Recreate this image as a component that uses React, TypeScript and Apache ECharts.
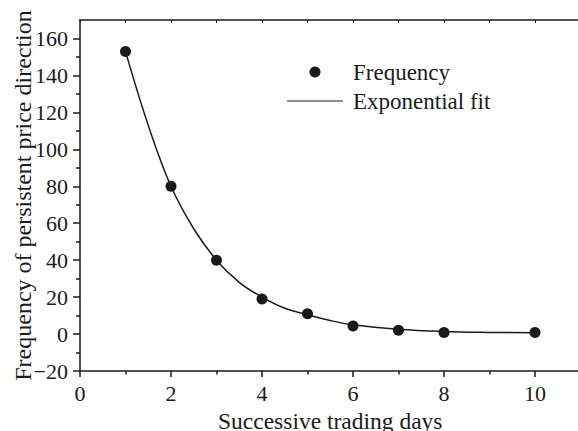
import React, { useEffect, useRef } from "react";
import * as echarts from "echarts";

// Observed frequencies by run length (successive trading days)
const days = [1, 2, 3, 4, 5, 6, 7, 8, 10];
const frequency = [153, 80, 40, 19, 11, 4.3, 2.1, 0.9, 0.9];

// Exponential fit curve, sampled along x
const fitX = [1, 1.5, 2, 2.5, 3, 3.5, 4, 4.5, 5, 5.5, 6, 7, 8, 9, 10];
const fitY = [153, 113, 80, 57, 40, 28, 20, 14, 10.5, 7.3, 5, 2.6, 1.4, 0.9, 0.7];

// Axis ticks
const xMajor = [0, 2, 4, 6, 8, 10];
const xMinor = [1, 3, 5, 7, 9];
const xTop = [0, 1, 2, 3, 4, 5, 6, 7, 8, 9, 10, 11];
const yMajor = [-20, 0, 20, 40, 60, 80, 100, 120, 140, 160];
const yMinor = [-10, 10, 30, 50, 70, 90, 110, 130, 150];

const FONT = "Liberation Serif";
const INK = "#1a1a1a";

export default function App() {
  const ref = useRef<HTMLDivElement>(null);

  useEffect(() => {
    if (!ref.current) return;
    const chart = echarts.init(ref.current, undefined, { renderer: "svg" });

    const lineStyle = { color: INK, width: 1.5 };

    chart.setOption({
      animation: false,
      backgroundColor: "#ffffff",
      textStyle: { fontFamily: FONT, color: INK },
      grid: {
        left: 80,
        top: 20,
        right: -2.5,
        bottom: 60,
        containLabel: false,
        outerBoundsMode: "none",
      },
      xAxis: [
        {
          type: "value",
          position: "bottom",
          min: 0,
          max: 11,
          name: "Successive trading days",
          nameLocation: "middle",
          nameGap: 37,
          nameTextStyle: { fontFamily: FONT, fontSize: 23.5, color: INK },
          axisLine: { show: true, onZero: false, lineStyle },
          axisTick: { show: true, inside: false, length: 6, customValues: xMajor, lineStyle },
          axisLabel: {
            customValues: xMajor,
            fontFamily: FONT,
            fontSize: 22,
            color: INK,
            margin: 11,
          },
          splitLine: { show: false },
        },
        {
          type: "value",
          position: "bottom",
          min: 0,
          max: 11,
          axisLine: { show: false, onZero: false },
          axisTick: { show: true, inside: false, length: 3.5, customValues: xMinor, lineStyle },
          axisLabel: { show: false },
          splitLine: { show: false },
        },
        {
          type: "value",
          position: "top",
          min: 0,
          max: 11,
          axisLine: { show: true, onZero: false, lineStyle },
          axisTick: { show: true, inside: true, length: 3, customValues: xTop, lineStyle: { color: INK, width: 1 } },
          axisLabel: { show: false },
          splitLine: { show: false },
        },
      ],
      yAxis: [
        {
          type: "value",
          position: "left",
          min: -20,
          max: 170,
          name: "Frequency of persistent price direction",
          nameLocation: "middle",
          nameGap: 45,
          nameMoveOverlap: false,
          nameTextStyle: { fontFamily: FONT, fontSize: 24, color: INK },
          axisLine: { show: true, onZero: false, lineStyle },
          axisTick: { show: true, inside: false, length: 7, customValues: yMajor, lineStyle },
          axisLabel: {
            customValues: yMajor,
            fontFamily: FONT,
            fontSize: 22,
            color: INK,
            margin: 12,
            formatter: (v: number) => String(v).replace("-", "\u2212"),
          },
          splitLine: { show: false },
        },
        {
          type: "value",
          position: "left",
          min: -20,
          max: 170,
          axisLine: { show: false, onZero: false },
          axisTick: { show: true, inside: false, length: 4, customValues: yMinor, lineStyle },
          axisLabel: { show: false },
          splitLine: { show: false },
        },
      ],
      series: [
        {
          name: "Exponential fit",
          type: "line",
          xAxisIndex: 0,
          yAxisIndex: 0,
          data: fitX.map((x, i) => [x, fitY[i]]),
          smooth: 0.4,
          showSymbol: false,
          lineStyle: { color: INK, width: 1.5 },
          z: 2,
        },
        {
          name: "Frequency",
          type: "scatter",
          xAxisIndex: 0,
          yAxisIndex: 0,
          data: days.map((d, i) => [d, frequency[i]]),
          symbol: "circle",
          symbolSize: 11,
          itemStyle: { color: INK, opacity: 1 },
          z: 3,
        },
      ],
      graphic: [
        { type: "circle", shape: { cx: 315, cy: 72, r: 5.5 }, style: { fill: INK } },
        {
          type: "text",
          x: 353,
          y: 72,
          style: { text: "Frequency", font: `23px "${FONT}"`, fill: INK, verticalAlign: "middle" },
        },
        {
          type: "line",
          shape: { x1: 287, y1: 101, x2: 343, y2: 101 },
          style: { stroke: INK, lineWidth: 1.2 },
        },
        {
          type: "text",
          x: 353,
          y: 101,
          style: { text: "Exponential fit", font: `23px "${FONT}"`, fill: INK, verticalAlign: "middle" },
        },
      ],
    });

    return () => chart.dispose();
  }, []);

  return (
    <div
      ref={ref}
      style={{ position: "fixed", left: 0, top: 0, width: 578, height: 431, overflow: "hidden" }}
    />
  );
}
